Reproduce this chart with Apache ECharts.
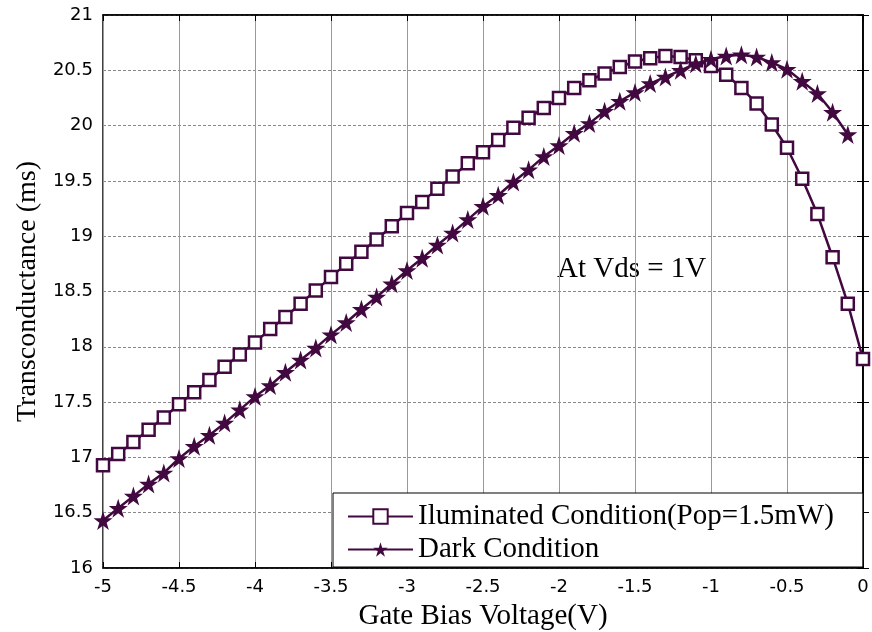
<!DOCTYPE html>
<html>
<head>
<meta charset="utf-8">
<title>Transconductance vs Gate Bias</title>
<script src="https://cdn.jsdelivr.net/npm/echarts@6/dist/echarts.min.js"></script>
<style>
  html, body { margin: 0; padding: 0; background: #fff; }
  #chart { width: 872px; height: 632px; }
</style>
</head>
<body>
<div id="chart"></div>
<script>
// gate bias voltage (V)
const voltIllum = [-5.0, -4.9, -4.8, -4.7, -4.6, -4.5, -4.4, -4.3, -4.2, -4.1,
  -4.0, -3.9, -3.8, -3.7, -3.6, -3.5, -3.4, -3.3, -3.2, -3.1,
  -3.0, -2.9, -2.8, -2.7, -2.6, -2.5, -2.4, -2.3, -2.2, -2.1,
  -2.0, -1.9, -1.8, -1.7, -1.6, -1.5, -1.4, -1.3, -1.2, -1.1,
  -1.0, -0.9, -0.8, -0.7, -0.6, -0.5, -0.4, -0.3, -0.2, -0.1, 0.0]
const gmIllum = [16.93, 17.03, 17.14, 17.25, 17.36, 17.48, 17.59, 17.70, 17.82, 17.93,
  18.04, 18.16, 18.27, 18.39, 18.51, 18.63, 18.75, 18.86, 18.97, 19.09,
  19.21, 19.31, 19.43, 19.54, 19.66, 19.76, 19.87, 19.98, 20.07, 20.16,
  20.25, 20.34, 20.41, 20.47, 20.53, 20.58, 20.61, 20.63, 20.62, 20.59,
  20.54, 20.46, 20.34, 20.20, 20.01, 19.80, 19.52, 19.20, 18.81, 18.39, 17.89]

const voltDark = [-5.0, -4.9, -4.8, -4.7, -4.6, -4.5, -4.4, -4.3, -4.2, -4.1,
  -4.0, -3.9, -3.8, -3.7, -3.6, -3.5, -3.4, -3.3, -3.2, -3.1,
  -3.0, -2.9, -2.8, -2.7, -2.6, -2.5, -2.4, -2.3, -2.2, -2.1,
  -2.0, -1.9, -1.8, -1.7, -1.6, -1.5, -1.4, -1.3, -1.2, -1.1,
  -1.0, -0.9, -0.8, -0.7, -0.6, -0.5, -0.4, -0.3, -0.2, -0.1]
const gmDark = [16.43, 16.54, 16.65, 16.76, 16.86, 16.99, 17.10, 17.20, 17.31, 17.43,
  17.55, 17.65, 17.77, 17.88, 17.99, 18.11, 18.22, 18.34, 18.45, 18.57,
  18.69, 18.80, 18.92, 19.03, 19.15, 19.27, 19.37, 19.49, 19.60, 19.72,
  19.82, 19.93, 20.02, 20.13, 20.22, 20.30, 20.38, 20.44, 20.50, 20.56,
  20.60, 20.63, 20.64, 20.62, 20.57, 20.51, 20.40, 20.29, 20.12, 19.92]

const seriesNames = ['Iluminated Condition(Pop=1.5mW)', 'Dark Condition']
const annotation = 'At Vds = 1V'

const lineColor = '#420840'
const serif = '"Liberation Serif", "DejaVu Serif", serif'
const sans = '"DejaVu Sans", "Liberation Sans", sans-serif'
// 5-point star
const starPath = 'path://M50,0 L61.8,35.5 L100,35.5 L69.1,57.4 L80.9,93 L50,71 L19.1,93 L30.9,57.4 L0,35.5 L38.2,35.5 Z'

const chart = echarts.init(document.getElementById('chart'))

const tickStyle = { inside: true, length: 6, lineStyle: { color: '#000' } }

const option = {
  animation: false,
  backgroundColor: '#fff',
  grid: {
    left: 103, right: 9, top: 15, bottom: 64,
    outerBoundsMode: 'none',
    containLabel: false,
    show: true, borderColor: '#000', borderWidth: 1.5
  },
  xAxis: [
    {
      type: 'value', min: -5, max: 0, interval: 0.5,
      name: 'Gate Bias Voltage(V)', nameLocation: 'middle', nameGap: 34,
      nameTextStyle: { fontFamily: serif, fontSize: 29, color: '#000' },
      axisLine: { show: true, lineStyle: { color: '#000', width: 1.5 } },
      axisTick: tickStyle,
      axisLabel: { fontFamily: sans, fontSize: 18, color: '#000', margin: 10 },
      splitLine: { show: true, lineStyle: { color: '#999', width: 1, type: 'solid' } }
    },
    {
      type: 'value', min: -5, max: 0, interval: 0.5, position: 'top',
      axisLine: { show: true, lineStyle: { color: '#000', width: 1.5 } },
      axisTick: tickStyle, axisLabel: { show: false }, splitLine: { show: false }
    }
  ],
  yAxis: [
    {
      type: 'value', min: 16, max: 21, interval: 0.5,
      name: 'Transconductance (ms)', nameLocation: 'middle', nameGap: 59,
      nameTextStyle: { fontFamily: serif, fontSize: 28, color: '#000' },
      axisLine: { show: true, lineStyle: { color: '#000', width: 1.5 } },
      axisTick: tickStyle,
      axisLabel: { fontFamily: sans, fontSize: 18, color: '#000', margin: 10 },
      splitLine: { show: true, lineStyle: { color: '#888', width: 1, type: [3, 2] } }
    },
    {
      type: 'value', min: 16, max: 21, interval: 0.5, position: 'right',
      axisLine: { show: true, lineStyle: { color: '#000', width: 1.5 } },
      axisTick: tickStyle, axisLabel: { show: false }, splitLine: { show: false }
    }
  ],
  legend: {
    orient: 'vertical',
    left: 333, top: 493,
    backgroundColor: '#fff',
    borderColor: '#000', borderWidth: 1,
    borderRadius: 0,
    padding: [9, 29, 3, 14],
    itemWidth: 65, itemHeight: 18, itemGap: 4,
    textStyle: { fontFamily: serif, fontSize: 29, color: '#000' },
    data: seriesNames
  },
  graphic: [
    {
      type: 'text', left: 557, top: 255,
      style: { text: annotation, font: '29px ' + serif, fill: '#000' }
    }
  ],
  series: [
    {
      name: seriesNames[0],
      type: 'line',
      data: voltIllum.map((v, i) => [v, gmIllum[i]]),
      symbol: 'rect',
      symbolSize: 12,
      lineStyle: { color: lineColor, width: 2.5 },
      itemStyle: { color: '#fff', borderColor: lineColor, borderWidth: 2.5 },
      z: 3
    },
    {
      name: seriesNames[1],
      type: 'line',
      data: voltDark.map((v, i) => [v, gmDark[i]]),
      symbol: starPath,
      symbolSize: 19,
      lineStyle: { color: lineColor, width: 2.5 },
      itemStyle: { color: lineColor, borderColor: lineColor, borderWidth: 0 },
      z: 4
    }
  ]
}

chart.setOption(option)
</script>
</body>
</html>
